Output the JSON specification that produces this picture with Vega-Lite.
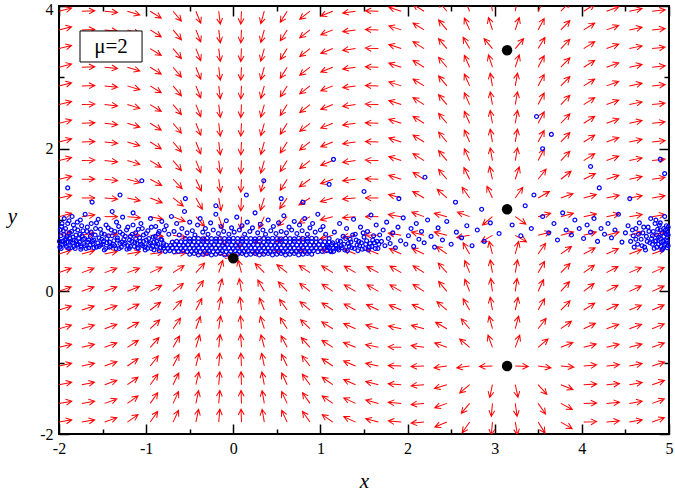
{
"$schema":"https://vega.github.io/schema/vega-lite/v6.json",
"width":610,"height":428,
"autosize":{"type":"none"},
"padding":{"left":59,"top":6,"right":6,"bottom":57},
"background":"white",
"config":{"view":{"stroke":"#000","strokeWidth":2},"axis":{"domain":false,"grid":false,"labelFont":"Liberation Serif","labelFontSize":16,"labelColor":"#000","tickColor":"#000","tickWidth":1.5,"titleFont":"Liberation Serif","titleFontStyle":"italic","titleFontWeight":"normal","titleFontSize":21,"titleColor":"#000","labelFlush":false,"labelOverlap":false,"labelExpr":"replace(datum.label, '−', '-')"}},
"datasets":{
"arrows":[
{"x":-2,"y":-1.833,"a":-10},{"x":-1.738,"y":-1.833,"a":-10},{"x":-1.476,"y":-1.833,"a":-20},{"x":-1.215,"y":-1.833,"a":-35},{"x":-0.953,"y":-1.833,"a":-55},{"x":-0.691,"y":-1.833,"a":-65},{"x":-0.429,"y":-1.833,"a":-78},{"x":-0.167,"y":-1.833,"a":-85},{"x":0.094,"y":-1.833,"a":-92},{"x":0.356,"y":-1.833,"a":-100},{"x":0.618,"y":-1.833,"a":-115},{"x":0.88,"y":-1.833,"a":-125},{"x":1.142,"y":-1.833,"a":-145},{"x":1.403,"y":-1.833,"a":-155},{"x":1.665,"y":-1.833,"a":-165},{"x":1.927,"y":-1.833,"a":-175},{"x":2.189,"y":-1.833,"a":175},{"x":2.451,"y":-1.833,"a":158},{"x":2.712,"y":-1.833,"a":125},{"x":2.974,"y":-1.833,"a":95},{"x":3.236,"y":-1.833,"a":80},{"x":3.498,"y":-1.833,"a":58},{"x":3.759,"y":-1.833,"a":30},{"x":4.021,"y":-1.833,"a":-2},{"x":4.283,"y":-1.833,"a":-5},{"x":4.545,"y":-1.833,"a":-10},{"x":4.807,"y":-1.833,"a":-20},
{"x":-2,"y":-1.571,"a":-10},{"x":-1.738,"y":-1.571,"a":-10},{"x":-1.476,"y":-1.571,"a":-20},{"x":-1.215,"y":-1.571,"a":-35},{"x":-0.953,"y":-1.571,"a":-55},{"x":-0.691,"y":-1.571,"a":-65},{"x":-0.429,"y":-1.571,"a":-78},{"x":-0.167,"y":-1.571,"a":-85},{"x":0.094,"y":-1.571,"a":-92},{"x":0.356,"y":-1.571,"a":-100},{"x":0.618,"y":-1.571,"a":-115},{"x":0.88,"y":-1.571,"a":-125},{"x":1.142,"y":-1.571,"a":-145},{"x":1.403,"y":-1.571,"a":-155},{"x":1.665,"y":-1.571,"a":-165},{"x":1.927,"y":-1.571,"a":-175},{"x":2.189,"y":-1.571,"a":175},{"x":2.451,"y":-1.571,"a":160},{"x":2.712,"y":-1.571,"a":130},{"x":2.974,"y":-1.571,"a":95},{"x":3.236,"y":-1.571,"a":82},{"x":3.498,"y":-1.571,"a":55},{"x":3.759,"y":-1.571,"a":28},{"x":4.021,"y":-1.571,"a":-2},{"x":4.283,"y":-1.571,"a":-5},{"x":4.545,"y":-1.571,"a":-10},{"x":4.807,"y":-1.571,"a":-20},
{"x":-2,"y":-1.309,"a":-11},{"x":-1.738,"y":-1.309,"a":-11},{"x":-1.476,"y":-1.309,"a":-20},{"x":-1.215,"y":-1.309,"a":-35},{"x":-0.953,"y":-1.309,"a":-54},{"x":-0.691,"y":-1.309,"a":-64},{"x":-0.429,"y":-1.309,"a":-77},{"x":-0.167,"y":-1.309,"a":-85},{"x":0.094,"y":-1.309,"a":-92},{"x":0.356,"y":-1.309,"a":-101},{"x":0.618,"y":-1.309,"a":-115},{"x":0.88,"y":-1.309,"a":-126},{"x":1.142,"y":-1.309,"a":-145},{"x":1.403,"y":-1.309,"a":-156},{"x":1.665,"y":-1.309,"a":-166},{"x":1.927,"y":-1.309,"a":-176},{"x":2.189,"y":-1.309,"a":175},{"x":2.451,"y":-1.309,"a":163},{"x":2.712,"y":-1.309,"a":140},{"x":2.974,"y":-1.309,"a":102},{"x":3.236,"y":-1.309,"a":78},{"x":3.498,"y":-1.309,"a":48},{"x":3.759,"y":-1.309,"a":22},{"x":4.021,"y":-1.309,"a":-3},{"x":4.283,"y":-1.309,"a":-5},{"x":4.545,"y":-1.309,"a":-10},{"x":4.807,"y":-1.309,"a":-19},
{"x":-2,"y":-1.047,"a":-12},{"x":-1.738,"y":-1.047,"a":-12},{"x":-1.476,"y":-1.047,"a":-20},{"x":-1.215,"y":-1.047,"a":-35},{"x":-0.953,"y":-1.047,"a":-52},{"x":-0.691,"y":-1.047,"a":-63},{"x":-0.429,"y":-1.047,"a":-76},{"x":-0.167,"y":-1.047,"a":-85},{"x":0.094,"y":-1.047,"a":-93},{"x":0.356,"y":-1.047,"a":-102},{"x":0.618,"y":-1.047,"a":-116},{"x":0.88,"y":-1.047,"a":-128},{"x":1.142,"y":-1.047,"a":-146},{"x":1.403,"y":-1.047,"a":-157},{"x":1.665,"y":-1.047,"a":-168},{"x":1.927,"y":-1.047,"a":-178},{"x":2.189,"y":-1.047,"a":178},{"x":2.451,"y":-1.047,"a":172},{"x":2.712,"y":-1.047,"a":172},{"x":2.974,"y":-1.047,"a":178},{"x":3.236,"y":-1.047,"a":2},{"x":3.498,"y":-1.047,"a":8},{"x":3.759,"y":-1.047,"a":5},{"x":4.021,"y":-1.047,"a":-5},{"x":4.283,"y":-1.047,"a":-6},{"x":4.545,"y":-1.047,"a":-11},{"x":4.807,"y":-1.047,"a":-18},
{"x":-2,"y":-0.785,"a":-14},{"x":-1.738,"y":-0.785,"a":-14},{"x":-1.476,"y":-0.785,"a":-20},{"x":-1.215,"y":-0.785,"a":-33},{"x":-0.953,"y":-0.785,"a":-48},{"x":-0.691,"y":-0.785,"a":-60},{"x":-0.429,"y":-0.785,"a":-73},{"x":-0.167,"y":-0.785,"a":-84},{"x":0.094,"y":-0.785,"a":-94},{"x":0.356,"y":-0.785,"a":-105},{"x":0.618,"y":-0.785,"a":-118},{"x":0.88,"y":-0.785,"a":-132},{"x":1.142,"y":-0.785,"a":-147},{"x":1.403,"y":-0.785,"a":-158},{"x":1.665,"y":-0.785,"a":-168},{"x":1.927,"y":-0.785,"a":-178},{"x":2.189,"y":-0.785,"a":-172},{"x":2.451,"y":-0.785,"a":-160},{"x":2.712,"y":-0.785,"a":-140},{"x":2.974,"y":-0.785,"a":-110},{"x":3.236,"y":-0.785,"a":-70},{"x":3.498,"y":-0.785,"a":-40},{"x":3.759,"y":-0.785,"a":-22},{"x":4.021,"y":-0.785,"a":-15},{"x":4.283,"y":-0.785,"a":-14},{"x":4.545,"y":-0.785,"a":-15},{"x":4.807,"y":-0.785,"a":-20},
{"x":-2,"y":-0.524,"a":-16},{"x":-1.738,"y":-0.524,"a":-16},{"x":-1.476,"y":-0.524,"a":-20},{"x":-1.215,"y":-0.524,"a":-30},{"x":-0.953,"y":-0.524,"a":-43},{"x":-0.691,"y":-0.524,"a":-55},{"x":-0.429,"y":-0.524,"a":-70},{"x":-0.167,"y":-0.524,"a":-82},{"x":0.094,"y":-0.524,"a":-95},{"x":0.356,"y":-0.524,"a":-108},{"x":0.618,"y":-0.524,"a":-122},{"x":0.88,"y":-0.524,"a":-136},{"x":1.142,"y":-0.524,"a":-148},{"x":1.403,"y":-0.524,"a":-156},{"x":1.665,"y":-0.524,"a":-163},{"x":1.927,"y":-0.524,"a":-168},{"x":2.189,"y":-0.524,"a":-165},{"x":2.451,"y":-0.524,"a":-150},{"x":2.712,"y":-0.524,"a":-130},{"x":2.974,"y":-0.524,"a":-105},{"x":3.236,"y":-0.524,"a":-75},{"x":3.498,"y":-0.524,"a":-52},{"x":3.759,"y":-0.524,"a":-35},{"x":4.021,"y":-0.524,"a":-25},{"x":4.283,"y":-0.524,"a":-20},{"x":4.545,"y":-0.524,"a":-20},{"x":4.807,"y":-0.524,"a":-22},
{"x":-2,"y":-0.262,"a":-18},{"x":-1.738,"y":-0.262,"a":-18},{"x":-1.476,"y":-0.262,"a":-20},{"x":-1.215,"y":-0.262,"a":-27},{"x":-0.953,"y":-0.262,"a":-37},{"x":-0.691,"y":-0.262,"a":-48},{"x":-0.429,"y":-0.262,"a":-63},{"x":-0.167,"y":-0.262,"a":-80},{"x":0.094,"y":-0.262,"a":-97},{"x":0.356,"y":-0.262,"a":-112},{"x":0.618,"y":-0.262,"a":-126},{"x":0.88,"y":-0.262,"a":-140},{"x":1.142,"y":-0.262,"a":-147},{"x":1.403,"y":-0.262,"a":-152},{"x":1.665,"y":-0.262,"a":-155},{"x":1.927,"y":-0.262,"a":-157},{"x":2.189,"y":-0.262,"a":-155},{"x":2.451,"y":-0.262,"a":-140},{"x":2.712,"y":-0.262,"a":-120},{"x":2.974,"y":-0.262,"a":-100},{"x":3.236,"y":-0.262,"a":-78},{"x":3.498,"y":-0.262,"a":-60},{"x":3.759,"y":-0.262,"a":-45},{"x":4.021,"y":-0.262,"a":-32},{"x":4.283,"y":-0.262,"a":-25},{"x":4.545,"y":-0.262,"a":-22},{"x":4.807,"y":-0.262,"a":-23},
{"x":-2,"y":0,"a":-20},{"x":-1.738,"y":0,"a":-20},{"x":-1.476,"y":0,"a":-20},{"x":-1.215,"y":0,"a":-22},{"x":-0.953,"y":0,"a":-28},{"x":-0.691,"y":0,"a":-38},{"x":-0.429,"y":0,"a":-55},{"x":-0.167,"y":0,"a":-75},{"x":0.094,"y":0,"a":-100},{"x":0.356,"y":0,"a":-120},{"x":0.618,"y":0,"a":-133},{"x":0.88,"y":0,"a":-142},{"x":1.142,"y":0,"a":-146},{"x":1.403,"y":0,"a":-150},{"x":1.665,"y":0,"a":-150},{"x":1.927,"y":0,"a":-150},{"x":2.189,"y":0,"a":-148},{"x":2.451,"y":0,"a":-130},{"x":2.712,"y":0,"a":-112},{"x":2.974,"y":0,"a":-98},{"x":3.236,"y":0,"a":-82},{"x":3.498,"y":0,"a":-65},{"x":3.759,"y":0,"a":-48},{"x":4.021,"y":0,"a":-37},{"x":4.283,"y":0,"a":-28},{"x":4.545,"y":0,"a":-24},{"x":4.807,"y":0,"a":-24},
{"x":-2,"y":0.262,"a":-20},{"x":-1.738,"y":0.262,"a":-20},{"x":-1.476,"y":0.262,"a":-20},{"x":-1.215,"y":0.262,"a":-20},{"x":-0.953,"y":0.262,"a":-25},{"x":-0.691,"y":0.262,"a":-33},{"x":-0.429,"y":0.262,"a":-48},{"x":-0.167,"y":0.262,"a":-72},{"x":0.094,"y":0.262,"a":-105},{"x":0.356,"y":0.262,"a":-135},{"x":0.618,"y":0.262,"a":-142},{"x":0.88,"y":0.262,"a":-146},{"x":1.142,"y":0.262,"a":-148},{"x":1.403,"y":0.262,"a":-150},{"x":1.665,"y":0.262,"a":-152},{"x":1.927,"y":0.262,"a":-150},{"x":2.189,"y":0.262,"a":-148},{"x":2.451,"y":0.262,"a":-132},{"x":2.712,"y":0.262,"a":-112},{"x":2.974,"y":0.262,"a":-100},{"x":3.236,"y":0.262,"a":-80},{"x":3.498,"y":0.262,"a":-60},{"x":3.759,"y":0.262,"a":-45},{"x":4.021,"y":0.262,"a":-35},{"x":4.283,"y":0.262,"a":-28},{"x":4.545,"y":0.262,"a":-24},{"x":4.807,"y":0.262,"a":-24},
{"x":-2,"y":0.524,"a":-18},{"x":-1.738,"y":0.524,"a":-15},{"x":-1.476,"y":0.524,"a":-12},{"x":-1.215,"y":0.524,"a":-10},{"x":-0.953,"y":0.524,"a":-8},{"x":-0.691,"y":0.524,"a":-5},{"x":-0.429,"y":0.524,"a":0},{"x":-0.167,"y":0.524,"a":15},{"x":0.094,"y":0.524,"a":165},{"x":0.356,"y":0.524,"a":-175},{"x":0.618,"y":0.524,"a":-165},{"x":0.88,"y":0.524,"a":-160},{"x":1.142,"y":0.524,"a":-158},{"x":1.403,"y":0.524,"a":-158},{"x":1.665,"y":0.524,"a":-158},{"x":1.927,"y":0.524,"a":-155},{"x":2.189,"y":0.524,"a":-155},{"x":2.451,"y":0.524,"a":-145},{"x":2.712,"y":0.524,"a":-120},{"x":2.974,"y":0.524,"a":-105},{"x":3.236,"y":0.524,"a":-75},{"x":3.498,"y":0.524,"a":-55},{"x":3.759,"y":0.524,"a":-35},{"x":4.021,"y":0.524,"a":-28},{"x":4.283,"y":0.524,"a":-24},{"x":4.545,"y":0.524,"a":-20},{"x":4.807,"y":0.524,"a":-20},
{"x":-2,"y":0.785,"a":-16},{"x":-1.738,"y":0.785,"a":-10},{"x":-1.476,"y":0.785,"a":-5},{"x":-1.215,"y":0.785,"a":0},{"x":-0.953,"y":0.785,"a":5},{"x":-0.691,"y":0.785,"a":10},{"x":-0.429,"y":0.785,"a":25},{"x":-0.167,"y":0.785,"a":55},{"x":0.094,"y":0.785,"a":105},{"x":0.356,"y":0.785,"a":140},{"x":0.618,"y":0.785,"a":150},{"x":0.88,"y":0.785,"a":155},{"x":1.142,"y":0.785,"a":165},{"x":1.403,"y":0.785,"a":172},{"x":1.665,"y":0.785,"a":-178},{"x":1.927,"y":0.785,"a":-170},{"x":2.189,"y":0.785,"a":-165},{"x":2.451,"y":0.785,"a":-165},{"x":2.712,"y":0.785,"a":170},{"x":2.974,"y":0.785,"a":150},{"x":3.236,"y":0.785,"a":30},{"x":3.498,"y":0.785,"a":-15},{"x":3.759,"y":0.785,"a":-15},{"x":4.021,"y":0.785,"a":-15},{"x":4.283,"y":0.785,"a":-15},{"x":4.545,"y":0.785,"a":-15},{"x":4.807,"y":0.785,"a":-15},
{"x":-2,"y":1.047,"a":-15},{"x":-1.738,"y":1.047,"a":-8},{"x":-1.476,"y":1.047,"a":0},{"x":-1.215,"y":1.047,"a":5},{"x":-0.953,"y":1.047,"a":12},{"x":-0.691,"y":1.047,"a":22},{"x":-0.429,"y":1.047,"a":48},{"x":-0.167,"y":1.047,"a":72},{"x":0.094,"y":1.047,"a":93},{"x":0.356,"y":1.047,"a":115},{"x":0.618,"y":1.047,"a":135},{"x":0.88,"y":1.047,"a":150},{"x":1.142,"y":1.047,"a":165},{"x":1.403,"y":1.047,"a":175},{"x":1.665,"y":1.047,"a":180},{"x":1.927,"y":1.047,"a":-170},{"x":2.189,"y":1.047,"a":-160},{"x":2.451,"y":1.047,"a":-165},{"x":2.712,"y":1.047,"a":-160},{"x":2.974,"y":1.047,"a":140},{"x":3.236,"y":1.047,"a":35},{"x":3.498,"y":1.047,"a":-15},{"x":3.759,"y":1.047,"a":-15},{"x":4.021,"y":1.047,"a":-12},{"x":4.283,"y":1.047,"a":-12},{"x":4.545,"y":1.047,"a":-10},{"x":4.807,"y":1.047,"a":-10},
{"x":-2,"y":1.309,"a":-12},{"x":-1.738,"y":1.309,"a":0},{"x":-1.476,"y":1.309,"a":5},{"x":-1.215,"y":1.309,"a":12},{"x":-0.953,"y":1.309,"a":22},{"x":-0.691,"y":1.309,"a":38},{"x":-0.429,"y":1.309,"a":60},{"x":-0.167,"y":1.309,"a":80},{"x":0.094,"y":1.309,"a":93},{"x":0.356,"y":1.309,"a":108},{"x":0.618,"y":1.309,"a":125},{"x":0.88,"y":1.309,"a":148},{"x":1.142,"y":1.309,"a":163},{"x":1.403,"y":1.309,"a":175},{"x":1.665,"y":1.309,"a":180},{"x":1.927,"y":1.309,"a":-165},{"x":2.189,"y":1.309,"a":-150},{"x":2.451,"y":1.309,"a":-138},{"x":2.712,"y":1.309,"a":-125},{"x":2.974,"y":1.309,"a":-115},{"x":3.236,"y":1.309,"a":-55},{"x":3.498,"y":1.309,"a":-30},{"x":3.759,"y":1.309,"a":-20},{"x":4.021,"y":1.309,"a":-15},{"x":4.283,"y":1.309,"a":-12},{"x":4.545,"y":1.309,"a":-10},{"x":4.807,"y":1.309,"a":-10},
{"x":-2,"y":1.571,"a":-13},{"x":-1.738,"y":1.571,"a":-1},{"x":-1.476,"y":1.571,"a":6},{"x":-1.215,"y":1.571,"a":15},{"x":-0.953,"y":1.571,"a":28},{"x":-0.691,"y":1.571,"a":46},{"x":-0.429,"y":1.571,"a":65},{"x":-0.167,"y":1.571,"a":82},{"x":0.094,"y":1.571,"a":93},{"x":0.356,"y":1.571,"a":106},{"x":0.618,"y":1.571,"a":122},{"x":0.88,"y":1.571,"a":144},{"x":1.142,"y":1.571,"a":160},{"x":1.403,"y":1.571,"a":173},{"x":1.665,"y":1.571,"a":-178},{"x":1.927,"y":1.571,"a":-162},{"x":2.189,"y":1.571,"a":-148},{"x":2.451,"y":1.571,"a":-130},{"x":2.712,"y":1.571,"a":-116},{"x":2.974,"y":1.571,"a":-103},{"x":3.236,"y":1.571,"a":-72},{"x":3.498,"y":1.571,"a":-52},{"x":3.759,"y":1.571,"a":-38},{"x":4.021,"y":1.571,"a":-26},{"x":4.283,"y":1.571,"a":-18},{"x":4.545,"y":1.571,"a":-12},{"x":4.807,"y":1.571,"a":-8},
{"x":-2,"y":1.833,"a":-14},{"x":-1.738,"y":1.833,"a":-2},{"x":-1.476,"y":1.833,"a":6},{"x":-1.215,"y":1.833,"a":17},{"x":-0.953,"y":1.833,"a":32},{"x":-0.691,"y":1.833,"a":50},{"x":-0.429,"y":1.833,"a":68},{"x":-0.167,"y":1.833,"a":83},{"x":0.094,"y":1.833,"a":93},{"x":0.356,"y":1.833,"a":106},{"x":0.618,"y":1.833,"a":122},{"x":0.88,"y":1.833,"a":142},{"x":1.142,"y":1.833,"a":158},{"x":1.403,"y":1.833,"a":172},{"x":1.665,"y":1.833,"a":-178},{"x":1.927,"y":1.833,"a":-162},{"x":2.189,"y":1.833,"a":-148},{"x":2.451,"y":1.833,"a":-130},{"x":2.712,"y":1.833,"a":-114},{"x":2.974,"y":1.833,"a":-100},{"x":3.236,"y":1.833,"a":-80},{"x":3.498,"y":1.833,"a":-62},{"x":3.759,"y":1.833,"a":-46},{"x":4.021,"y":1.833,"a":-32},{"x":4.283,"y":1.833,"a":-20},{"x":4.545,"y":1.833,"a":-12},{"x":4.807,"y":1.833,"a":-6},
{"x":-2,"y":2.094,"a":-14},{"x":-1.738,"y":2.094,"a":-2},{"x":-1.476,"y":2.094,"a":6},{"x":-1.215,"y":2.094,"a":17},{"x":-0.953,"y":2.094,"a":32},{"x":-0.691,"y":2.094,"a":50},{"x":-0.429,"y":2.094,"a":68},{"x":-0.167,"y":2.094,"a":83},{"x":0.094,"y":2.094,"a":93},{"x":0.356,"y":2.094,"a":106},{"x":0.618,"y":2.094,"a":122},{"x":0.88,"y":2.094,"a":142},{"x":1.142,"y":2.094,"a":158},{"x":1.403,"y":2.094,"a":172},{"x":1.665,"y":2.094,"a":-178},{"x":1.927,"y":2.094,"a":-162},{"x":2.189,"y":2.094,"a":-148},{"x":2.451,"y":2.094,"a":-130},{"x":2.712,"y":2.094,"a":-114},{"x":2.974,"y":2.094,"a":-100},{"x":3.236,"y":2.094,"a":-80},{"x":3.498,"y":2.094,"a":-62},{"x":3.759,"y":2.094,"a":-46},{"x":4.021,"y":2.094,"a":-32},{"x":4.283,"y":2.094,"a":-20},{"x":4.545,"y":2.094,"a":-12},{"x":4.807,"y":2.094,"a":-6},
{"x":-2,"y":2.356,"a":-14},{"x":-1.738,"y":2.356,"a":-2},{"x":-1.476,"y":2.356,"a":6},{"x":-1.215,"y":2.356,"a":17},{"x":-0.953,"y":2.356,"a":32},{"x":-0.691,"y":2.356,"a":50},{"x":-0.429,"y":2.356,"a":68},{"x":-0.167,"y":2.356,"a":83},{"x":0.094,"y":2.356,"a":93},{"x":0.356,"y":2.356,"a":106},{"x":0.618,"y":2.356,"a":122},{"x":0.88,"y":2.356,"a":142},{"x":1.142,"y":2.356,"a":158},{"x":1.403,"y":2.356,"a":172},{"x":1.665,"y":2.356,"a":-178},{"x":1.927,"y":2.356,"a":-162},{"x":2.189,"y":2.356,"a":-148},{"x":2.451,"y":2.356,"a":-130},{"x":2.712,"y":2.356,"a":-114},{"x":2.974,"y":2.356,"a":-100},{"x":3.236,"y":2.356,"a":-80},{"x":3.498,"y":2.356,"a":-62},{"x":3.759,"y":2.356,"a":-46},{"x":4.021,"y":2.356,"a":-32},{"x":4.283,"y":2.356,"a":-20},{"x":4.545,"y":2.356,"a":-12},{"x":4.807,"y":2.356,"a":-6},
{"x":-2,"y":2.618,"a":-14},{"x":-1.738,"y":2.618,"a":-2},{"x":-1.476,"y":2.618,"a":6},{"x":-1.215,"y":2.618,"a":17},{"x":-0.953,"y":2.618,"a":32},{"x":-0.691,"y":2.618,"a":50},{"x":-0.429,"y":2.618,"a":68},{"x":-0.167,"y":2.618,"a":83},{"x":0.094,"y":2.618,"a":93},{"x":0.356,"y":2.618,"a":106},{"x":0.618,"y":2.618,"a":122},{"x":0.88,"y":2.618,"a":142},{"x":1.142,"y":2.618,"a":158},{"x":1.403,"y":2.618,"a":172},{"x":1.665,"y":2.618,"a":-178},{"x":1.927,"y":2.618,"a":-162},{"x":2.189,"y":2.618,"a":-148},{"x":2.451,"y":2.618,"a":-130},{"x":2.712,"y":2.618,"a":-114},{"x":2.974,"y":2.618,"a":-100},{"x":3.236,"y":2.618,"a":-80},{"x":3.498,"y":2.618,"a":-62},{"x":3.759,"y":2.618,"a":-46},{"x":4.021,"y":2.618,"a":-32},{"x":4.283,"y":2.618,"a":-20},{"x":4.545,"y":2.618,"a":-12},{"x":4.807,"y":2.618,"a":-6},
{"x":-2,"y":2.88,"a":-14},{"x":-1.738,"y":2.88,"a":-2},{"x":-1.476,"y":2.88,"a":6},{"x":-1.215,"y":2.88,"a":17},{"x":-0.953,"y":2.88,"a":32},{"x":-0.691,"y":2.88,"a":50},{"x":-0.429,"y":2.88,"a":68},{"x":-0.167,"y":2.88,"a":83},{"x":0.094,"y":2.88,"a":93},{"x":0.356,"y":2.88,"a":106},{"x":0.618,"y":2.88,"a":122},{"x":0.88,"y":2.88,"a":142},{"x":1.142,"y":2.88,"a":158},{"x":1.403,"y":2.88,"a":172},{"x":1.665,"y":2.88,"a":-178},{"x":1.927,"y":2.88,"a":-162},{"x":2.189,"y":2.88,"a":-148},{"x":2.451,"y":2.88,"a":-130},{"x":2.712,"y":2.88,"a":-114},{"x":2.974,"y":2.88,"a":-100},{"x":3.236,"y":2.88,"a":-80},{"x":3.498,"y":2.88,"a":-62},{"x":3.759,"y":2.88,"a":-46},{"x":4.021,"y":2.88,"a":-32},{"x":4.283,"y":2.88,"a":-20},{"x":4.545,"y":2.88,"a":-12},{"x":4.807,"y":2.88,"a":-6},
{"x":-2,"y":3.142,"a":-14},{"x":-1.738,"y":3.142,"a":-2},{"x":-1.476,"y":3.142,"a":6},{"x":-1.215,"y":3.142,"a":17},{"x":-0.953,"y":3.142,"a":32},{"x":-0.691,"y":3.142,"a":50},{"x":-0.429,"y":3.142,"a":68},{"x":-0.167,"y":3.142,"a":83},{"x":0.094,"y":3.142,"a":93},{"x":0.356,"y":3.142,"a":106},{"x":0.618,"y":3.142,"a":122},{"x":0.88,"y":3.142,"a":142},{"x":1.142,"y":3.142,"a":158},{"x":1.403,"y":3.142,"a":172},{"x":1.665,"y":3.142,"a":-178},{"x":1.927,"y":3.142,"a":-162},{"x":2.189,"y":3.142,"a":-148},{"x":2.451,"y":3.142,"a":-130},{"x":2.712,"y":3.142,"a":-114},{"x":2.974,"y":3.142,"a":-108},{"x":3.236,"y":3.142,"a":-72},{"x":3.498,"y":3.142,"a":-62},{"x":3.759,"y":3.142,"a":-46},{"x":4.021,"y":3.142,"a":-32},{"x":4.283,"y":3.142,"a":-20},{"x":4.545,"y":3.142,"a":-12},{"x":4.807,"y":3.142,"a":-6},
{"x":-2,"y":3.403,"a":-14},{"x":-1.738,"y":3.403,"a":-2},{"x":-1.476,"y":3.403,"a":6},{"x":-1.215,"y":3.403,"a":17},{"x":-0.953,"y":3.403,"a":32},{"x":-0.691,"y":3.403,"a":50},{"x":-0.429,"y":3.403,"a":68},{"x":-0.167,"y":3.403,"a":83},{"x":0.094,"y":3.403,"a":93},{"x":0.356,"y":3.403,"a":106},{"x":0.618,"y":3.403,"a":122},{"x":0.88,"y":3.403,"a":142},{"x":1.142,"y":3.403,"a":158},{"x":1.403,"y":3.403,"a":172},{"x":1.665,"y":3.403,"a":-178},{"x":1.927,"y":3.403,"a":-162},{"x":2.189,"y":3.403,"a":-148},{"x":2.451,"y":3.403,"a":-130},{"x":2.712,"y":3.403,"a":-120},{"x":2.974,"y":3.403,"a":-130},{"x":3.236,"y":3.403,"a":-50},{"x":3.498,"y":3.403,"a":-58},{"x":3.759,"y":3.403,"a":-46},{"x":4.021,"y":3.403,"a":-32},{"x":4.283,"y":3.403,"a":-20},{"x":4.545,"y":3.403,"a":-12},{"x":4.807,"y":3.403,"a":-6},
{"x":-2,"y":3.665,"a":-14},{"x":-1.738,"y":3.665,"a":-2},{"x":-1.476,"y":3.665,"a":6},{"x":-1.215,"y":3.665,"a":17},{"x":-0.953,"y":3.665,"a":32},{"x":-0.691,"y":3.665,"a":50},{"x":-0.429,"y":3.665,"a":68},{"x":-0.167,"y":3.665,"a":83},{"x":0.094,"y":3.665,"a":93},{"x":0.356,"y":3.665,"a":106},{"x":0.618,"y":3.665,"a":122},{"x":0.88,"y":3.665,"a":142},{"x":1.142,"y":3.665,"a":158},{"x":1.403,"y":3.665,"a":172},{"x":1.665,"y":3.665,"a":-178},{"x":1.927,"y":3.665,"a":-162},{"x":2.189,"y":3.665,"a":-148},{"x":2.451,"y":3.665,"a":-130},{"x":2.712,"y":3.665,"a":-114},{"x":2.974,"y":3.665,"a":-108},{"x":3.236,"y":3.665,"a":-72},{"x":3.498,"y":3.665,"a":-62},{"x":3.759,"y":3.665,"a":-46},{"x":4.021,"y":3.665,"a":-32},{"x":4.283,"y":3.665,"a":-20},{"x":4.545,"y":3.665,"a":-12},{"x":4.807,"y":3.665,"a":-6},
{"x":-2,"y":3.927,"a":-14},{"x":-1.738,"y":3.927,"a":-2},{"x":-1.476,"y":3.927,"a":6},{"x":-1.215,"y":3.927,"a":17},{"x":-0.953,"y":3.927,"a":32},{"x":-0.691,"y":3.927,"a":50},{"x":-0.429,"y":3.927,"a":68},{"x":-0.167,"y":3.927,"a":83},{"x":0.094,"y":3.927,"a":93},{"x":0.356,"y":3.927,"a":106},{"x":0.618,"y":3.927,"a":122},{"x":0.88,"y":3.927,"a":142},{"x":1.142,"y":3.927,"a":158},{"x":1.403,"y":3.927,"a":172},{"x":1.665,"y":3.927,"a":-178},{"x":1.927,"y":3.927,"a":-162},{"x":2.189,"y":3.927,"a":-148},{"x":2.451,"y":3.927,"a":-130},{"x":2.712,"y":3.927,"a":-114},{"x":2.974,"y":3.927,"a":-100},{"x":3.236,"y":3.927,"a":-80},{"x":3.498,"y":3.927,"a":-62},{"x":3.759,"y":3.927,"a":-46},{"x":4.021,"y":3.927,"a":-32},{"x":4.283,"y":3.927,"a":-20},{"x":4.545,"y":3.927,"a":-12},{"x":4.807,"y":3.927,"a":-6}
],
"pts":[
{"x":-1.99,"y":0.62},{"x":-1.98,"y":0.78},{"x":-1.97,"y":0.91},{"x":-1.96,"y":0.7},{"x":-1.95,"y":0.85},{"x":-1.94,"y":1.02},{"x":-1.93,"y":0.66},{"x":-1.92,"y":0.74},{"x":-1.9,"y":0.95},{"x":-1.89,"y":0.6},{"x":-1.88,"y":0.82},{"x":-1.87,"y":0.69},{"x":-1.85,"y":1.05},{"x":-1.84,"y":0.76},{"x":-1.83,"y":0.63},{"x":-1.82,"y":0.88},{"x":-1.8,"y":0.71},{"x":-1.79,"y":0.97},{"x":-1.78,"y":0.66},{"x":-1.76,"y":0.8},{"x":-1.75,"y":0.59},{"x":-1.74,"y":0.92},{"x":-1.72,"y":0.73},{"x":-1.71,"y":0.64},{"x":-1.7,"y":1.08},{"x":-1.68,"y":0.84},{"x":-1.67,"y":0.69},{"x":-1.66,"y":0.61},{"x":-1.64,"y":0.77},{"x":-1.63,"y":0.95},{"x":-1.61,"y":0.67},{"x":-1.6,"y":0.72},{"x":-1.58,"y":0.88},{"x":-1.57,"y":0.62},{"x":-1.55,"y":1.01},{"x":-1.54,"y":0.75},{"x":-1.52,"y":0.65},{"x":-1.51,"y":0.81},{"x":-1.49,"y":0.7},{"x":-1.48,"y":0.58},{"x":-1.46,"y":0.93},{"x":-1.45,"y":0.68},{"x":-1.43,"y":0.78},{"x":-1.42,"y":0.62},{"x":-1.4,"y":0.86},{"x":-1.39,"y":1.12},{"x":-1.37,"y":0.71},{"x":-1.36,"y":0.64},{"x":-1.34,"y":0.97},{"x":-1.33,"y":0.75},{"x":-1.31,"y":0.6},{"x":-1.3,"y":0.83},{"x":-1.28,"y":0.69},{"x":-1.27,"y":1.04},{"x":-1.25,"y":0.66},{"x":-1.24,"y":0.77},{"x":-1.22,"y":0.59},{"x":-1.21,"y":0.9},{"x":-1.19,"y":0.72},{"x":-1.18,"y":0.63},{"x":-1.16,"y":0.8},{"x":-1.15,"y":1.1},{"x":-1.13,"y":0.68},{"x":-1.12,"y":0.74},{"x":-1.1,"y":0.61},{"x":-1.09,"y":0.87},{"x":-1.07,"y":0.7},{"x":-1.06,"y":0.95},{"x":-1.04,"y":0.64},{"x":-1.03,"y":0.79},{"x":-1.01,"y":0.58},{"x":-1,"y":0.72},{"x":-0.98,"y":0.85},{"x":-0.97,"y":0.66},{"x":-0.95,"y":1.02},{"x":-0.94,"y":0.6},{"x":-0.92,"y":0.76},{"x":-0.91,"y":0.69},{"x":-0.89,"y":0.91},{"x":-0.88,"y":0.63},{"x":-0.86,"y":0.81},{"x":-0.85,"y":0.57},{"x":-0.83,"y":0.73},{"x":-0.82,"y":0.98},{"x":-0.8,"y":0.67},{"x":-0.79,"y":0.86},
{"x":-1.995,"y":0.7},{"x":-1.985,"y":0.86},{"x":-1.975,"y":0.6},{"x":-1.965,"y":0.95},{"x":-1.955,"y":0.66},{"x":-1.945,"y":0.8},{"x":-1.935,"y":0.72},{"x":-1.925,"y":0.88},{"x":-1.915,"y":0.63},{"x":-1.905,"y":0.77},{"x":-1.895,"y":0.69},{"x":-1.885,"y":0.99},{"x":-1.875,"y":0.75},{"x":-1.865,"y":0.61},{"x":-1.855,"y":0.84},{"x":-1.845,"y":0.68},{"x":-1.835,"y":0.93},{"x":-1.825,"y":0.72},{"x":-1.815,"y":0.6},{"x":-1.805,"y":0.79},{"x":-1.795,"y":0.65},{"x":-1.785,"y":0.86},{"x":-1.775,"y":0.74},{"x":-1.765,"y":0.69},{"x":-1.755,"y":1},{"x":-1.745,"y":0.62},{"x":-1.735,"y":0.78},{"x":-1.725,"y":0.85},{"x":-1.715,"y":0.67},{"x":-1.705,"y":0.74},{"x":-1.69,"y":0.6},{"x":-1.675,"y":0.9},{"x":-1.66,"y":0.72},{"x":-1.645,"y":0.65},{"x":-1.63,"y":0.83},{"x":-1.615,"y":0.7},{"x":-1.6,"y":0.61},{"x":-1.585,"y":0.79},{"x":-1.57,"y":0.96},{"x":-1.555,"y":0.68},{"x":-1.54,"y":0.63},{"x":-1.525,"y":0.87},{"x":-1.51,"y":0.73},{"x":-1.495,"y":0.66},{"x":-1.48,"y":0.8},{"x":-1.465,"y":0.6},{"x":-1.45,"y":0.74},{"x":-1.435,"y":0.89},{"x":-1.42,"y":0.69},{"x":-1.405,"y":0.63},{"x":-1.39,"y":0.78},{"x":-1.375,"y":0.66},{"x":-1.36,"y":0.84},{"x":-1.345,"y":0.6},{"x":-1.33,"y":0.72},{"x":-1.315,"y":0.91},{"x":-1.3,"y":0.67},{"x":-1.285,"y":0.62},{"x":-1.27,"y":0.8},{"x":-1.255,"y":0.73},{"x":-1.24,"y":0.68},{"x":-1.225,"y":0.86},{"x":-1.21,"y":0.64},{"x":-1.195,"y":0.6},{"x":-1.18,"y":0.77},{"x":-1.165,"y":0.7},{"x":-1.15,"y":0.93},{"x":-1.135,"y":0.63},{"x":-1.12,"y":0.82},{"x":-1.105,"y":0.67},{"x":-1.09,"y":0.6},{"x":-1.075,"y":0.75},{"x":-1.06,"y":0.66},{"x":-1.045,"y":0.88},{"x":-1.03,"y":0.7},{"x":-1.015,"y":0.62},{"x":-1,"y":0.81},{"x":-0.985,"y":0.6},{"x":-0.97,"y":0.74},{"x":-0.955,"y":0.68},{"x":-0.94,"y":0.9},{"x":-0.925,"y":0.63},{"x":-0.91,"y":0.58},{"x":-0.895,"y":0.77},{"x":-0.88,"y":0.7},{"x":-0.865,"y":0.66},{"x":-0.85,"y":0.84},{"x":-0.835,"y":0.61},{"x":-0.82,"y":0.72},{"x":-0.805,"y":0.64},
{"x":-0.77,"y":0.92},{"x":-0.74,"y":0.8},{"x":-0.71,"y":1.05},{"x":-0.68,"y":0.84},{"x":-0.65,"y":0.95},{"x":-0.62,"y":0.79},{"x":-0.59,"y":0.88},{"x":-0.56,"y":1.12},{"x":-0.53,"y":0.82},{"x":-0.5,"y":0.97},{"x":-0.47,"y":0.85},{"x":-0.44,"y":0.79},{"x":-0.41,"y":0.93},{"x":-0.38,"y":1.02},{"x":-0.35,"y":0.83},{"x":-0.32,"y":0.88},{"x":-0.29,"y":0.8},{"x":-0.26,"y":0.96},{"x":-0.23,"y":0.86},{"x":-0.2,"y":1.08},{"x":-0.17,"y":0.81},{"x":-0.14,"y":0.91},{"x":-0.11,"y":0.84},{"x":-0.08,"y":0.99},{"x":-0.05,"y":0.8},{"x":-0.02,"y":0.89},{"x":0.01,"y":0.83},{"x":0.04,"y":1.04},{"x":0.07,"y":0.86},{"x":0.1,"y":0.92},{"x":0.13,"y":0.8},{"x":0.16,"y":0.97},{"x":0.19,"y":0.84},{"x":0.22,"y":0.89},{"x":0.25,"y":1.1},{"x":0.28,"y":0.82},{"x":0.31,"y":0.94},{"x":0.34,"y":0.86},{"x":0.37,"y":0.8},{"x":0.4,"y":1},{"x":0.43,"y":0.85},{"x":0.46,"y":0.91},{"x":0.49,"y":0.81},{"x":0.52,"y":0.96},{"x":0.55,"y":0.84},{"x":0.58,"y":1.06},{"x":0.61,"y":0.82},{"x":0.64,"y":0.9},{"x":0.67,"y":0.86},{"x":0.7,"y":0.98},{"x":0.73,"y":0.81},{"x":0.76,"y":0.93},{"x":0.79,"y":0.85},{"x":0.82,"y":1.02},{"x":0.85,"y":0.8},{"x":0.88,"y":0.89},{"x":0.91,"y":0.95},{"x":0.94,"y":0.83},{"x":0.97,"y":1.08},{"x":1,"y":0.86},{"x":1.03,"y":0.91},{"x":1.06,"y":0.8},
{"x":1.08,"y":0.62},{"x":1.1,"y":0.74},{"x":1.12,"y":0.57},{"x":1.14,"y":0.68},{"x":1.16,"y":0.83},{"x":1.18,"y":0.6},{"x":1.2,"y":0.71},{"x":1.22,"y":0.95},{"x":1.24,"y":0.64},{"x":1.26,"y":0.77},{"x":1.28,"y":0.58},{"x":1.3,"y":0.88},{"x":1.32,"y":0.67},{"x":1.34,"y":0.73},{"x":1.36,"y":0.61},{"x":1.38,"y":1.01},{"x":1.4,"y":0.8},{"x":1.42,"y":0.65},{"x":1.44,"y":0.7},{"x":1.46,"y":0.9},{"x":1.48,"y":0.59},{"x":1.5,"y":0.76},{"x":1.52,"y":0.66},{"x":1.54,"y":0.84},{"x":1.56,"y":0.62},{"x":1.58,"y":1.07},{"x":1.6,"y":0.72},{"x":1.62,"y":0.68},{"x":1.64,"y":0.93},{"x":1.66,"y":0.6},{"x":1.68,"y":0.79},{"x":1.7,"y":0.7},{"x":1.72,"y":0.86},{"x":1.74,"y":0.64},{"x":1.76,"y":0.97},{"x":1.78,"y":0.74},{"x":1.8,"y":0.67},{"x":1.83,"y":0.82},{"x":1.86,"y":0.61},{"x":1.89,"y":0.9},{"x":1.92,"y":0.71},{"x":1.95,"y":1.03},{"x":1.98,"y":0.66},{"x":2.01,"y":0.78},{"x":2.04,"y":0.88},{"x":2.07,"y":0.63},{"x":2.1,"y":0.95},{"x":2.13,"y":0.73},{"x":2.16,"y":0.84},{"x":2.19,"y":0.68},{"x":2.23,"y":1},{"x":2.27,"y":0.77},{"x":2.31,"y":0.62},{"x":2.35,"y":0.89},
{"x":1.15,"y":0.56},{"x":1.18,"y":0.64},{"x":1.21,"y":0.58},{"x":1.23,"y":0.7},{"x":1.25,"y":0.61},{"x":1.27,"y":0.66},{"x":1.29,"y":0.74},{"x":1.31,"y":0.57},{"x":1.33,"y":0.63},{"x":1.35,"y":0.69},{"x":1.37,"y":0.79},{"x":1.39,"y":0.6},{"x":1.41,"y":0.72},{"x":1.43,"y":0.57},{"x":1.45,"y":0.64},{"x":1.47,"y":0.68},{"x":1.49,"y":0.82},{"x":1.51,"y":0.6},{"x":1.53,"y":0.71},{"x":1.55,"y":0.58},{"x":1.57,"y":0.67},{"x":1.59,"y":0.63},{"x":1.61,"y":0.78},{"x":1.63,"y":0.6},{"x":1.65,"y":0.7},{"x":1.67,"y":0.66},
{"x":2.4,"y":0.72},{"x":2.45,"y":0.98},{"x":2.5,"y":0.66},{"x":2.56,"y":0.83},{"x":2.62,"y":0.75},{"x":2.68,"y":0.92},{"x":2.74,"y":0.64},{"x":2.8,"y":0.86},{"x":2.88,"y":0.7},{"x":2.95,"y":0.96},{"x":3.05,"y":0.81},{"x":3.2,"y":0.93},{"x":3.3,"y":0.78},{"x":3.42,"y":0.88},{"x":3.55,"y":1.05},{"x":3.62,"y":0.82},{"x":3.68,"y":0.95},{"x":3.72,"y":0.72},{"x":3.78,"y":1.1},{"x":3.82,"y":0.86},{"x":3.88,"y":0.79},{"x":3.92,"y":1},{"x":3.97,"y":0.88},{"x":4.02,"y":0.74},{"x":4.06,"y":0.93},{"x":4.1,"y":0.83},{"x":4.14,"y":1.02},{"x":4.18,"y":0.7},{"x":4.22,"y":0.88},{"x":4.26,"y":0.8},{"x":4.3,"y":0.95},{"x":4.34,"y":0.75},{"x":4.38,"y":0.86},{"x":4.42,"y":1.08},{"x":4.46,"y":0.69},
{"x":4.5,"y":0.82},{"x":4.53,"y":0.92},{"x":4.56,"y":0.7},{"x":4.59,"y":0.78},{"x":4.62,"y":0.88},{"x":4.64,"y":0.66},{"x":4.66,"y":0.96},{"x":4.68,"y":0.73},{"x":4.7,"y":0.82},{"x":4.72,"y":0.62},{"x":4.74,"y":0.77},{"x":4.76,"y":0.9},{"x":4.78,"y":0.68},{"x":4.8,"y":0.74},{"x":4.82,"y":0.84},{"x":4.83,"y":0.6},{"x":4.85,"y":0.71},{"x":4.86,"y":0.79},{"x":4.88,"y":0.66},{"x":4.89,"y":0.93},{"x":4.9,"y":0.74},{"x":4.91,"y":0.63},{"x":4.92,"y":0.82},{"x":4.93,"y":0.7},{"x":4.94,"y":0.77},{"x":4.95,"y":0.65},{"x":4.96,"y":0.86},{"x":4.97,"y":0.72},{"x":4.98,"y":0.61},{"x":4.99,"y":0.79},{"x":4.87,"y":0.87},{"x":4.84,"y":0.95},{"x":4.79,"y":1.02},{"x":4.95,"y":1.05},{"x":4.97,"y":0.92},{"x":4.92,"y":0.58},{"x":4.73,"y":0.58},{"x":4.6,"y":0.62},
{"x":4.65,"y":0.8},{"x":4.69,"y":0.64},{"x":4.71,"y":0.9},{"x":4.75,"y":0.7},{"x":4.77,"y":0.84},{"x":4.81,"y":0.66},{"x":4.81,"y":0.78},{"x":4.84,"y":0.7},{"x":4.86,"y":0.62},{"x":4.88,"y":0.76},{"x":4.9,"y":0.86},{"x":4.91,"y":0.69},{"x":4.93,"y":0.6},{"x":4.94,"y":0.88},{"x":4.96,"y":0.67},{"x":4.97,"y":0.8},{"x":4.98,"y":0.7},{"x":4.99,"y":0.64},{"x":4.99,"y":0.9},{"x":4.98,"y":0.83},{"x":4.9,"y":0.96},{"x":4.85,"y":1},{"x":4.62,"y":0.73},{"x":4.58,"y":0.86},
{"x":-1.9,"y":1.45},{"x":-1.62,"y":1.25},{"x":-1.3,"y":1.35},{"x":-1.05,"y":1.55},{"x":-0.55,"y":1.3},{"x":0.15,"y":1.35},{"x":0.35,"y":1.55},{"x":0.55,"y":1.3},{"x":1.1,"y":1.5},{"x":1.15,"y":1.85},{"x":1.5,"y":1.4},{"x":1.9,"y":1.3},{"x":2.2,"y":1.6},{"x":2.55,"y":1.25},{"x":2.85,"y":1.15},{"x":3.45,"y":1.35},{"x":3.55,"y":2},{"x":3.65,"y":2.2},{"x":3.48,"y":2.45},{"x":4.1,"y":1.75},{"x":4.2,"y":1.45},{"x":4.55,"y":1.3},{"x":4.9,"y":1.85},{"x":4.95,"y":1.65},{"x":3.35,"y":1.2},{"x":0.8,"y":1.25},{"x":-0.2,"y":1.2},
{"x":-0.5,"y":0.52},{"x":-0.45,"y":0.53},{"x":-0.4,"y":0.51},{"x":-0.35,"y":0.52},{"x":-0.3,"y":0.53},{"x":-0.25,"y":0.51},{"x":-0.2,"y":0.52},{"x":-0.15,"y":0.53},{"x":-0.1,"y":0.51},{"x":-0.05,"y":0.52},{"x":0.05,"y":0.52},{"x":0.1,"y":0.53},{"x":0.15,"y":0.51},{"x":0.2,"y":0.52},{"x":0.25,"y":0.53},{"x":0.3,"y":0.51},{"x":0.35,"y":0.52},{"x":0.4,"y":0.53},{"x":0.45,"y":0.51},{"x":0.5,"y":0.52},{"x":0.55,"y":0.53},{"x":0.6,"y":0.51},{"x":0.65,"y":0.52},{"x":0.7,"y":0.53},{"x":0.75,"y":0.51},{"x":0.8,"y":0.52},{"x":0.85,"y":0.53},{"x":0.9,"y":0.52},
{"x":-0.78,"y":0.56},{"x":-0.73,"y":0.57},{"x":-0.68,"y":0.555},{"x":-0.63,"y":0.56},{"x":-0.58,"y":0.57},{"x":-0.53,"y":0.555},{"x":-0.48,"y":0.56},{"x":-0.43,"y":0.57},{"x":-0.38,"y":0.555},{"x":-0.33,"y":0.56},{"x":-0.28,"y":0.57},{"x":-0.23,"y":0.555},{"x":-0.18,"y":0.56},{"x":-0.13,"y":0.57},{"x":-0.08,"y":0.555},{"x":-0.03,"y":0.56},{"x":0.02,"y":0.57},{"x":0.07,"y":0.555},{"x":0.12,"y":0.56},{"x":0.17,"y":0.57},{"x":0.22,"y":0.555},{"x":0.27,"y":0.56},{"x":0.32,"y":0.57},{"x":0.37,"y":0.555},{"x":0.42,"y":0.56},{"x":0.47,"y":0.57},{"x":0.52,"y":0.555},{"x":0.57,"y":0.56},{"x":0.62,"y":0.57},{"x":0.67,"y":0.555},{"x":0.72,"y":0.56},{"x":0.77,"y":0.57},{"x":0.82,"y":0.555},{"x":0.87,"y":0.56},{"x":0.92,"y":0.57},{"x":0.97,"y":0.555},{"x":1.02,"y":0.56},{"x":1.07,"y":0.57},{"x":1.12,"y":0.555},
{"x":-0.8,"y":0.605},{"x":-0.75,"y":0.6},{"x":-0.7,"y":0.61},{"x":-0.65,"y":0.605},{"x":-0.6,"y":0.6},{"x":-0.55,"y":0.61},{"x":-0.5,"y":0.605},{"x":-0.45,"y":0.6},{"x":-0.4,"y":0.61},{"x":-0.35,"y":0.605},{"x":-0.3,"y":0.6},{"x":-0.25,"y":0.61},{"x":-0.2,"y":0.605},{"x":-0.15,"y":0.6},{"x":-0.1,"y":0.61},{"x":-0.05,"y":0.605},{"x":0,"y":0.6},{"x":0.05,"y":0.61},{"x":0.1,"y":0.605},{"x":0.15,"y":0.6},{"x":0.2,"y":0.61},{"x":0.25,"y":0.605},{"x":0.3,"y":0.6},{"x":0.35,"y":0.61},{"x":0.4,"y":0.605},{"x":0.45,"y":0.6},{"x":0.5,"y":0.61},{"x":0.55,"y":0.605},{"x":0.6,"y":0.6},{"x":0.65,"y":0.61},{"x":0.7,"y":0.605},{"x":0.75,"y":0.6},{"x":0.8,"y":0.61},{"x":0.85,"y":0.605},{"x":0.9,"y":0.6},{"x":0.95,"y":0.61},{"x":1,"y":0.605},{"x":1.05,"y":0.6},{"x":1.1,"y":0.61},{"x":1.15,"y":0.605},{"x":1.2,"y":0.6},
{"x":-0.77,"y":0.65},{"x":-0.72,"y":0.645},{"x":-0.67,"y":0.655},{"x":-0.62,"y":0.65},{"x":-0.57,"y":0.645},{"x":-0.52,"y":0.655},{"x":-0.47,"y":0.65},{"x":-0.42,"y":0.645},{"x":-0.37,"y":0.655},{"x":-0.32,"y":0.65},{"x":-0.27,"y":0.645},{"x":-0.22,"y":0.655},{"x":-0.17,"y":0.65},{"x":-0.12,"y":0.645},{"x":-0.07,"y":0.655},{"x":-0.02,"y":0.65},{"x":0.03,"y":0.645},{"x":0.08,"y":0.655},{"x":0.13,"y":0.65},{"x":0.18,"y":0.645},{"x":0.23,"y":0.655},{"x":0.28,"y":0.65},{"x":0.33,"y":0.645},{"x":0.38,"y":0.655},{"x":0.43,"y":0.65},{"x":0.48,"y":0.645},{"x":0.53,"y":0.655},{"x":0.58,"y":0.65},{"x":0.63,"y":0.645},{"x":0.68,"y":0.655},{"x":0.73,"y":0.65},{"x":0.78,"y":0.645},{"x":0.83,"y":0.655},{"x":0.88,"y":0.65},{"x":0.93,"y":0.645},{"x":0.98,"y":0.655},{"x":1.03,"y":0.65},{"x":1.08,"y":0.645},{"x":1.13,"y":0.655},{"x":1.18,"y":0.65},
{"x":-0.7,"y":0.69},{"x":-0.65,"y":0.7},{"x":-0.6,"y":0.695},{"x":-0.55,"y":0.69},{"x":-0.5,"y":0.7},{"x":-0.45,"y":0.695},{"x":-0.4,"y":0.69},{"x":-0.35,"y":0.7},{"x":-0.3,"y":0.695},{"x":-0.25,"y":0.69},{"x":-0.2,"y":0.7},{"x":-0.15,"y":0.695},{"x":-0.1,"y":0.69},{"x":-0.05,"y":0.7},{"x":0,"y":0.695},{"x":0.05,"y":0.69},{"x":0.1,"y":0.7},{"x":0.15,"y":0.695},{"x":0.2,"y":0.69},{"x":0.25,"y":0.7},{"x":0.3,"y":0.695},{"x":0.35,"y":0.69},{"x":0.4,"y":0.7},{"x":0.45,"y":0.695},{"x":0.5,"y":0.69},{"x":0.55,"y":0.7},{"x":0.6,"y":0.695},{"x":0.65,"y":0.69},{"x":0.7,"y":0.7},{"x":0.75,"y":0.695},{"x":0.8,"y":0.69},{"x":0.85,"y":0.7},{"x":0.9,"y":0.695},{"x":0.95,"y":0.69},{"x":1,"y":0.7},{"x":1.05,"y":0.695},{"x":1.1,"y":0.69},
{"x":-0.55,"y":0.74},{"x":-0.5,"y":0.735},{"x":-0.45,"y":0.745},{"x":-0.4,"y":0.74},{"x":-0.35,"y":0.735},{"x":-0.3,"y":0.745},{"x":-0.25,"y":0.74},{"x":-0.2,"y":0.735},{"x":-0.15,"y":0.745},{"x":-0.1,"y":0.74},{"x":-0.05,"y":0.735},{"x":0,"y":0.745},{"x":0.05,"y":0.74},{"x":0.1,"y":0.735},{"x":0.15,"y":0.745},{"x":0.2,"y":0.74},{"x":0.25,"y":0.735},{"x":0.3,"y":0.745},{"x":0.35,"y":0.74},{"x":0.4,"y":0.735},{"x":0.45,"y":0.745},{"x":0.5,"y":0.74},{"x":0.55,"y":0.735},{"x":0.6,"y":0.745},{"x":0.65,"y":0.74},{"x":0.7,"y":0.735},{"x":0.75,"y":0.745},{"x":0.8,"y":0.74},{"x":0.85,"y":0.735},{"x":0.9,"y":0.745},{"x":0.95,"y":0.74}
],
"fp":[{"x":0,"y":0.463},{"x":3.142,"y":3.38},{"x":3.142,"y":1.15},{"x":3.142,"y":-1.047}],
"lab":[{"x1":-1.759,"x2":-1.047,"y1":3.215,"y2":3.65,"tx":-1.403,"ty":3.43,"t":"μ=2"}]
},
"layer":[
{"data":{"name":"arrows"},
 "mark":{"type":"point","shape":"M0,0L2,0M1.1,-0.45L2,0L1.1,0.45","size":169,"filled":false,"color":"#ff0000","stroke":"#ff0000","strokeWidth":1,"opacity":1,"clip":true},
 "encoding":{
  "x":{"field":"x","type":"quantitative","scale":{"domain":[-2,5],"nice":false,"zero":false},"axis":{"orient":"bottom","values":[-2,-1,0,1,2,3,4,5],"tickSize":-10,"labelPadding":16,"title":"x","titleX":305,"titleY":53,"titleAlign":"center","titleBaseline":"alphabetic"}},
  "y":{"field":"y","type":"quantitative","scale":{"domain":[-2,4],"nice":false,"zero":false},"axis":{"orient":"left","values":[-2,0,2,4],"tickSize":-10,"labelPadding":16,"labelOffset":{"condition":{"test":"datum.value === 4","value":3},"value":0},"title":"y","titleAngle":0,"titleX":-47,"titleY":216,"titleAlign":"center","titleBaseline":"alphabetic"}},
  "angle":{"field":"a","type":"quantitative","scale":null}
 }},
{"data":{"name":"lab"},
 "mark":{"type":"rect","fill":"white","stroke":"#000","strokeWidth":1},
 "encoding":{
  "x":{"field":"x1","type":"quantitative","scale":{"domain":[-2,5],"nice":false,"zero":false},"axis":{"orient":"top","values":[-1.5,-0.5,0.5,1.5,2.5,3.5,4.5],"tickSize":-5,"labels":false,"title":null}},
  "x2":{"field":"x2"},
  "y":{"field":"y1","type":"quantitative","scale":{"domain":[-2,4],"nice":false,"zero":false},"axis":{"orient":"right","values":[-1,1,3],"tickSize":-5,"labels":false,"title":null}},
  "y2":{"field":"y2"}
 }},
{"data":{"name":"lab"},
 "mark":{"type":"text","font":"Liberation Serif","fontSize":21,"color":"#000","align":"center","baseline":"middle"},
 "encoding":{
  "x":{"field":"tx","type":"quantitative","axis":null},
  "y":{"field":"ty","type":"quantitative","axis":null},
  "text":{"field":"t"}
 }},
{"data":{"name":"pts"},
 "mark":{"type":"point","shape":"circle","size":15,"filled":false,"color":"#0000ff","stroke":"#0000ff","strokeWidth":1.2,"opacity":1},
 "encoding":{
  "x":{"field":"x","type":"quantitative","axis":{"orient":"bottom","values":[-1.5,-0.5,0.5,1.5,2.5,3.5,4.5],"tickSize":-5,"labels":false,"title":null}},
  "y":{"field":"y","type":"quantitative","axis":{"orient":"left","values":[-1,1,3],"tickSize":-5,"labels":false,"title":null}}
 }},
{"data":{"name":"fp"},
 "mark":{"type":"point","shape":"circle","size":110,"filled":true,"color":"#000","opacity":1},
 "encoding":{
  "x":{"field":"x","type":"quantitative","axis":{"orient":"top","values":[-2,-1,0,1,2,3,4,5],"tickSize":-10,"labels":false,"title":null}},
  "y":{"field":"y","type":"quantitative","axis":{"orient":"right","values":[-2,0,2,4],"tickSize":-10,"labels":false,"title":null}}
 }}
],
"resolve":{"axis":{"x":"independent","y":"independent"}}
}
